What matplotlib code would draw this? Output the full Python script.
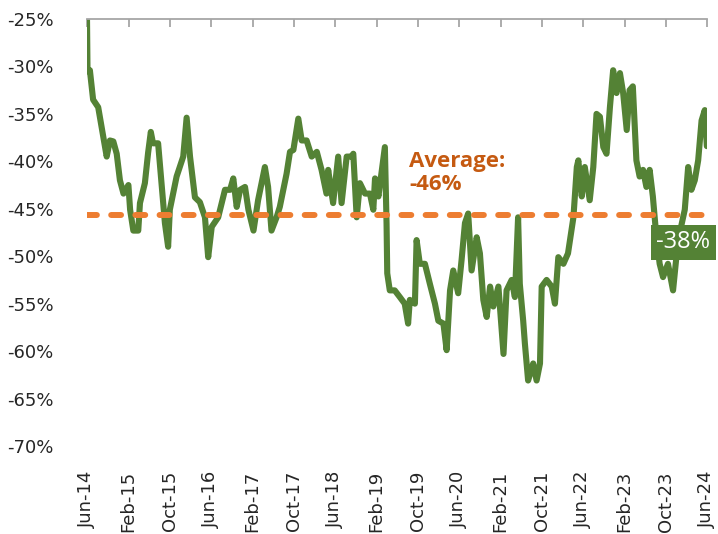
import numpy as np
import pandas as pd
import matplotlib
matplotlib.use('Agg')
import matplotlib.pyplot as plt
import matplotlib.dates as mdates

# discount values (approximate)
dates = ['2014-06-01', '2014-06-04', '2014-06-18', '2014-07-07', '2014-08-06', '2014-08-26',
         '2014-09-25', '2014-10-14', '2014-11-03', '2014-11-23', '2014-12-12', '2015-01-02',
         '2015-01-31', '2015-02-10', '2015-03-01', '2015-03-30', '2015-04-09', '2015-05-08',
         '2015-05-27', '2015-06-12', '2015-06-25', '2015-07-25', '2015-08-14', '2015-09-03',
         '2015-09-22', '2015-10-02', '2015-11-11', '2015-12-20', '2016-01-09', '2016-01-29',
         '2016-02-27', '2016-03-27', '2016-04-26', '2016-05-15', '2016-06-05', '2016-07-13',
         '2016-08-22', '2016-09-21', '2016-10-10', '2016-10-30', '2016-11-19', '2016-12-18',
         '2017-01-07', '2017-02-06', '2017-03-05', '2017-04-14', '2017-05-03', '2017-05-23',
         '2017-06-22', '2017-07-11', '2017-08-20', '2017-09-09', '2017-09-29', '2017-10-28',
         '2017-11-17', '2017-12-16', '2018-01-15', '2018-02-14', '2018-03-14', '2018-04-12',
         '2018-04-22', '2018-05-21', '2018-06-20', '2018-07-10', '2018-08-09', '2018-09-07',
         '2018-09-17', '2018-10-07', '2018-10-26', '2018-11-25', '2018-12-24', '2019-01-13',
         '2019-01-23', '2019-02-12', '2019-03-22', '2019-04-01', '2019-04-05', '2019-04-20',
         '2019-05-19', '2019-06-18', '2019-07-17', '2019-08-06', '2019-08-16', '2019-09-15',
         '2019-09-25', '2019-10-14', '2019-11-13', '2019-12-12', '2020-01-11', '2020-01-31',
         '2020-03-01', '2020-03-20', '2020-04-09', '2020-04-28', '2020-05-27', '2020-06-16',
         '2020-07-06', '2020-07-25', '2020-08-14', '2020-09-13', '2020-10-02', '2020-10-22',
         '2020-11-11', '2020-12-01', '2020-12-20', '2021-01-19', '2021-02-18', '2021-03-08',
         '2021-04-07', '2021-04-26', '2021-05-15', '2021-05-25', '2021-06-14', '2021-06-24',
         '2021-07-13', '2021-08-12', '2021-09-01', '2021-09-21', '2021-10-01', '2021-10-30',
         '2021-11-29', '2021-12-18', '2022-01-07', '2022-02-06', '2022-03-05', '2022-04-06',
         '2022-04-26', '2022-05-05', '2022-05-25', '2022-06-12', '2022-07-11', '2022-08-01',
         '2022-08-20', '2022-09-09', '2022-09-29', '2022-10-18', '2022-11-07', '2022-11-26',
         '2022-12-16', '2023-01-05', '2023-01-24', '2023-02-14', '2023-03-03', '2023-03-22',
         '2023-04-12', '2023-05-01', '2023-05-21', '2023-06-10', '2023-06-29', '2023-07-18',
         '2023-08-08', '2023-08-27', '2023-09-16', '2023-10-15', '2023-11-14', '2023-12-13',
         '2024-01-22', '2024-02-11', '2024-03-01', '2024-03-21', '2024-04-10', '2024-04-30',
         '2024-05-19', '2024-05-31']
discount = [-25.0, -30.5, -30.4, -33.5, -34.3, -36.4,
            -39.5, -37.8, -37.9, -39.2, -42.0, -43.4,
            -42.5, -45.1, -47.3, -47.3, -44.4, -42.3,
            -39.1, -36.9, -38.1, -38.1, -42.3, -46.5,
            -49.0, -45.1, -41.6, -39.5, -35.4, -39.5,
            -43.8, -44.3, -45.9, -50.1, -46.9, -45.9,
            -43.0, -43.0, -41.8, -44.8, -43.0, -42.7,
            -45.1, -47.3, -44.1, -40.6, -42.7, -47.3,
            -45.9, -44.8, -41.3, -39.0, -38.8, -35.5,
            -37.8, -37.8, -39.5, -39.0, -40.9, -43.4,
            -40.9, -44.4, -39.5, -44.4, -39.5, -39.5,
            -39.2, -45.9, -42.3, -43.4, -43.4, -45.1,
            -41.8, -43.7, -38.5, -46.6, -51.8, -53.6,
            -53.6, -54.3, -55.0, -57.1, -54.6, -55.0,
            -48.3, -50.8, -50.8, -52.9, -55.0, -56.8,
            -57.1, -59.9, -53.6, -51.5, -53.9, -50.4,
            -46.5, -45.5, -51.5, -48.0, -49.7, -54.6,
            -56.4, -53.2, -55.3, -53.2, -60.3, -53.6,
            -52.5, -54.3, -45.9, -52.9, -56.8, -59.2,
            -63.1, -61.3, -63.1, -61.3, -53.2, -52.5,
            -53.2, -55.0, -50.1, -50.8, -49.7, -45.9,
            -40.6, -39.9, -43.7, -40.6, -44.1, -40.6,
            -35.0, -35.3, -38.5, -39.2, -34.3, -30.4,
            -32.8, -30.7, -32.8, -36.7, -32.5, -32.1,
            -39.9, -41.6, -40.9, -42.7, -40.9, -43.7,
            -48.0, -50.8, -52.2, -50.8, -53.6, -48.4,
            -45.1, -40.6, -43.0, -42.0, -39.9, -35.7,
            -34.6, -38.4]
average = -45.7
latest_label = '-38%'
y_ticks = [-25, -30, -35, -40, -45, -50, -55, -60, -65, -70]

green = '#548235'
orange = '#ED7D31'

df = pd.DataFrame({'Date': pd.to_datetime(dates), 'Discount': discount})

fig = plt.figure(figsize=(7.18, 5.34), dpi=100)
ax = fig.add_axes([87/718, 1 - 446/534, 620/718, 427/534])

ax.plot(df.Date, df.Discount, color=green, lw=4.4, solid_joinstyle='round', solid_capstyle='round')
ax.plot([pd.Timestamp('2014-06-01'), pd.Timestamp('2024-06-01')], [average, average],
        color=orange, lw=4.3, dashes=(1.65, 2.4), dash_capstyle='round')

ax.set_xlim(pd.Timestamp('2014-06-01'), pd.Timestamp('2024-06-01'))
ax.set_ylim(-70, -25)

xt = pd.date_range('2014-06-01', '2024-06-01', freq='8MS')
ax.set_xticks(xt)
ax.xaxis.set_major_formatter(mdates.DateFormatter('%b-%y'))
ax.tick_params(axis='x', top=True, bottom=False, labeltop=False, labelbottom=True,
               direction='in', length=6, width=1.3, color='#a6a6a6', pad=18,
               labelsize=13, labelrotation=90, labelcolor='#262626')
ax.set_yticks(y_ticks)
ax.set_yticklabels([str(t) + '%' for t in y_ticks])
ax.tick_params(axis='y', length=0, pad=24, labelsize=13, labelcolor='#262626')

for s in ['left', 'right', 'bottom']:
    ax.spines[s].set_visible(False)
ax.spines['top'].set_color('#a6a6a6')
ax.spines['top'].set_linewidth(1.3)

ax.text(0.52, 0.69, 'Average:\n-46%', transform=ax.transAxes, ha='left', va='top',
        fontsize=16, fontweight='bold', color='#C55A11', family='Open Sans', linespacing=1.1)

ax.text(0.962, 0.477, latest_label, transform=ax.transAxes, ha='center', va='center',
        fontsize=17, color='white', family='Open Sans', clip_on=False,
        bbox=dict(boxstyle='square,pad=0.22', fc=green, ec='none'))

plt.savefig('out.png', dpi=100)
